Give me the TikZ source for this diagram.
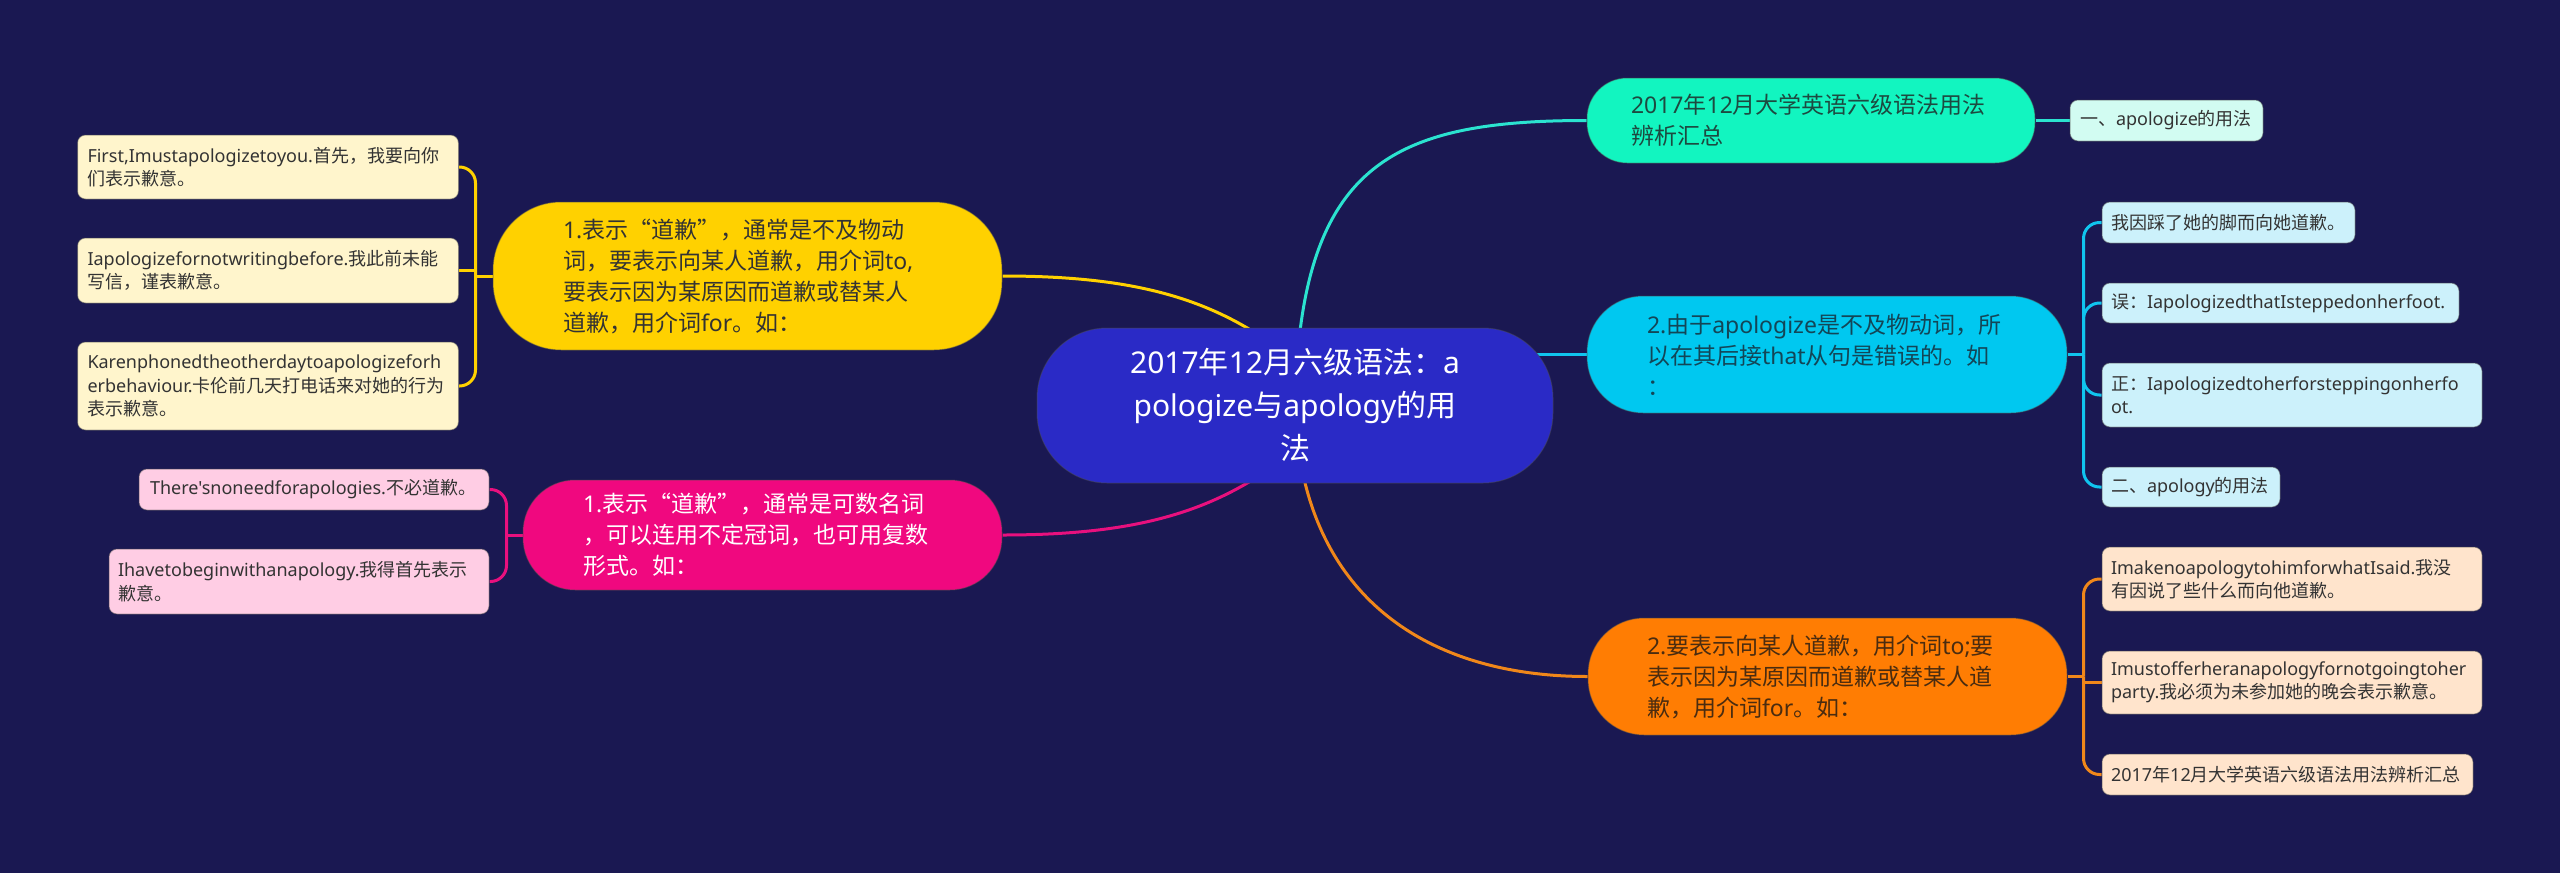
\documentclass[tikz,border=0pt]{standalone}
\usepackage{fontspec}
\newfontfamily\zh{Noto Sans CJK SC}
\newfontfamily\lat{Noto Sans}
\newcount\cjkcc
\def\cjkrange#1#2{\cjkcc=#1\relax\loop\XeTeXcharclass\cjkcc=1\relax\advance\cjkcc by 1\relax\ifnum\cjkcc<#2\relax\repeat}
\cjkrange{"4E00}{"A000}
\cjkrange{"3000}{"3040}
\cjkrange{"FF00}{"FFF0}
\cjkrange{"201C}{"201E}
\XeTeXinterchartokenstate=1
\XeTeXinterchartoks 4095 0 = {\lat}
\XeTeXinterchartoks 1 0 = {\lat}
\XeTeXinterchartoks 4095 1 = {\zh}
\XeTeXinterchartoks 0 1 = {\zh}
\definecolor{bgc}{HTML}{1A1852}
\definecolor{cC}{HTML}{2A2AC6}
\definecolor{cY}{HTML}{FFD100}
\definecolor{cYl}{HTML}{FFF5CC}
\definecolor{cYe}{HTML}{FFD100}
\definecolor{cP}{HTML}{F0087F}
\definecolor{cPl}{HTML}{FFCDE4}
\definecolor{cPe}{HTML}{E8107E}
\definecolor{cG}{HTML}{12F5C0}
\definecolor{cGl}{HTML}{D2FCF2}
\definecolor{cGe}{HTML}{2BE3D0}
\definecolor{tG}{HTML}{1D4A40}
\definecolor{cB}{HTML}{00C8F0}
\definecolor{cBl}{HTML}{CCF1FB}
\definecolor{cBe}{HTML}{10C4EE}
\definecolor{tB}{HTML}{134657}
\definecolor{cO}{HTML}{FF7D03}
\definecolor{cOl}{HTML}{FFE4CC}
\definecolor{cOe}{HTML}{F0871A}
\definecolor{tO}{HTML}{4A2C10}
\definecolor{tD}{HTML}{333333}
\pgfdeclarelayer{bgl}
\pgfdeclarelayer{edl}
\pgfsetlayers{bgl,edl,main}
\begin{document}
\begin{tikzpicture}[x=0.5pt,y=-0.5pt,
  box/.style={inner sep=0pt, align=left, draw=black!70, draw opacity=0.45, line width=0.5pt},
  cnode/.style={box, fill=cC, rounded corners=35pt, font=\zh\fontsize{15}{21.5}\selectfont, text=white, align=center},
  mnode/.style={box, font=\zh\fontsize{11.5}{15.5}\selectfont},
  leaf/.style={box, rounded corners=4pt, font=\zh\fontsize{9}{11.7}\selectfont, text=tD},
  conn/.style={line width=1.5pt},
  br/.style={line width=1.5pt, rounded corners=8pt}
]
\useasboundingbox (0,0) rectangle (2560,873);
\begin{pgfonlayer}{bgl}
\fill[bgc] (0,0) rectangle (2560,873);
\end{pgfonlayer}

% central
\node[cnode, minimum width=258pt, minimum height=77.5pt, text width=190pt] (C) at (1295,405.5)
  {2017年12月六级语法：a\\pologize与apology的用\\法};

% left: yellow
\node[mnode, fill=cY, text=tD, minimum width=254.5pt, minimum height=74pt, rounded corners=34pt, text width=184.5pt] (L1) at (747.5,276)
  {1.表示“道歉”，通常是不及物动\\词，要表示向某人道歉，用介词to,\\要表示因为某原因而道歉或替某人\\道歉，用介词for。如：};
\node[leaf, fill=cYl, minimum width=190.5pt, minimum height=32pt, text width=180.5pt] (L1a) at (268,167)
  {First,Imustapologizetoyou.首先，我要向你\\们表示歉意。};
\node[leaf, fill=cYl, minimum width=190.5pt, minimum height=32.5pt, text width=180.5pt] (L1b) at (268,270.5)
  {Iapologizefornotwritingbefore.我此前未能\\写信，谨表歉意。};
\node[leaf, fill=cYl, minimum width=190.5pt, minimum height=44pt, text width=180.5pt] (L1c) at (268,386)
  {Karenphonedtheotherdaytoapologizeforh\\erbehaviour.卡伦前几天打电话来对她的行为\\表示歉意。};

% left: pink
\node[mnode, fill=cP, text=white, minimum width=239.5pt, minimum height=55pt, rounded corners=26pt, text width=179.5pt] (L2) at (762.5,535)
  {1.表示“道歉”，通常是可数名词\\，可以连用不定冠词，也可用复数\\形式。如：};
\node[leaf, fill=cPl, minimum width=175pt, minimum height=20.5pt, text width=164pt] (L2a) at (314,489.5)
  {There'snoneedforapologies.不必道歉。};
\node[leaf, fill=cPl, minimum width=190pt, minimum height=32.5pt, text width=181pt] (L2b) at (299,581.5)
  {Ihavetobeginwithanapology.我得首先表示\\歉意。};

% right: green
\node[mnode, fill=cG, text=tG, minimum width=224pt, minimum height=42.5pt, rounded corners=20pt, text width=180pt] (R1) at (1811,120.5)
  {2017年12月大学英语六级语法用法\\辨析汇总};
\node[leaf, fill=cGl, minimum width=96.5pt, minimum height=20.5pt, text width=86.5pt] (R1a) at (2166.5,120.5)
  {一、apologize的用法};

% right: cyan
\node[mnode, fill=cB, text=tB, minimum width=240pt, minimum height=58.5pt, rounded corners=28pt, text width=180pt] (R2) at (1827,354.5)
  {2.由于apologize是不及物动词，所\\以在其后接that从句是错误的。如\\：};
\node[leaf, fill=cBl, minimum width=126.5pt, minimum height=20.5pt, text width=117.5pt] (R2a) at (2228.5,222.5)
  {我因踩了她的脚而向她道歉。};
\node[leaf, fill=cBl, minimum width=178.5pt, minimum height=20pt, text width=169.5pt] (R2b) at (2280.5,303)
  {误：IapologizedthatIsteppedonherfoot.};
\node[leaf, fill=cBl, minimum width=190pt, minimum height=32pt, text width=181pt] (R2c) at (2292,395)
  {正：Iapologizedtoherforsteppingonherfo\\ot.};
\node[leaf, fill=cBl, minimum width=89pt, minimum height=20pt, text width=80pt] (R2d) at (2191,487)
  {二、apology的用法};

% right: orange
\node[mnode, fill=cO, text=tO, minimum width=239.5pt, minimum height=58.5pt, rounded corners=28pt, text width=180.5pt] (R3) at (1827.5,676.5)
  {2.要表示向某人道歉，用介词to;要\\表示因为某原因而道歉或替某人道\\歉，用介词for。如：};
\node[leaf, fill=cOl, minimum width=190pt, minimum height=32pt, text width=181pt] (R3a) at (2292,579)
  {ImakenoapologytohimforwhatIsaid.我没\\有因说了些什么而向他道歉。};
\node[leaf, fill=cOl, minimum width=190pt, minimum height=31.5pt, text width=181pt] (R3b) at (2292,682.5)
  {Imustofferheranapologyfornotgoingtoher\\party.我必须为未参加她的晚会表示歉意。};
\node[leaf, fill=cOl, minimum width=185.5pt, minimum height=20.5pt, text width=176.5pt] (R3c) at (2287.5,774.5)
  {2017年12月大学英语六级语法用法辨析汇总};

\begin{pgfonlayer}{edl}
% main branches
\draw[conn, cYe] (L1.east) .. controls (1140,276) and (1220,300) .. ([yshift=22pt]C.center);
\draw[conn, cPe] (L2.east) .. controls (1140,535) and (1220,511) .. ([yshift=-22pt]C.center);
\draw[conn, cGe] (C.center) .. controls (1300,165) and (1390,120.5) .. (R1.west);
\draw[conn, cBe] (C.center |- R2.west) -- (R2.west);
\draw[conn, cOe] (C.center) .. controls (1300,590) and (1420,676.5) .. (R3.west);
% yellow bracket
\draw[conn, cYe] (L1.west) -- ++(-17,0) coordinate (j1);
\draw[br, cYe] (j1) |- (L1a.east);
\draw[conn, cYe] (j1) |- (L1b.east);
\draw[br, cYe] (j1) |- (L1c.east);
% pink bracket
\draw[conn, cPe] (L2.west) -- ++(-16,0) coordinate (j2);
\draw[br, cPe] (j2) |- (L2a.east);
\draw[br, cPe] (j2) |- (L2b.east);
% green
\draw[conn, cGe] (R1.east) -- (R1a.west);
% cyan bracket
\draw[conn, cBe] (R2.east) -- ++(16,0) coordinate (j3);
\draw[br, cBe] (j3) |- (R2a.west);
\draw[br, cBe] (j3) |- (R2b.west);
\draw[br, cBe] (j3) |- (R2c.west);
\draw[br, cBe] (j3) |- (R2d.west);
% orange bracket
\draw[conn, cOe] (R3.east) -- ++(16,0) coordinate (j4);
\draw[br, cOe] (j4) |- (R3a.west);
\draw[conn, cOe] (j4) |- (R3b.west);
\draw[br, cOe] (j4) |- (R3c.west);
\end{pgfonlayer}
\end{tikzpicture}
\end{document}
